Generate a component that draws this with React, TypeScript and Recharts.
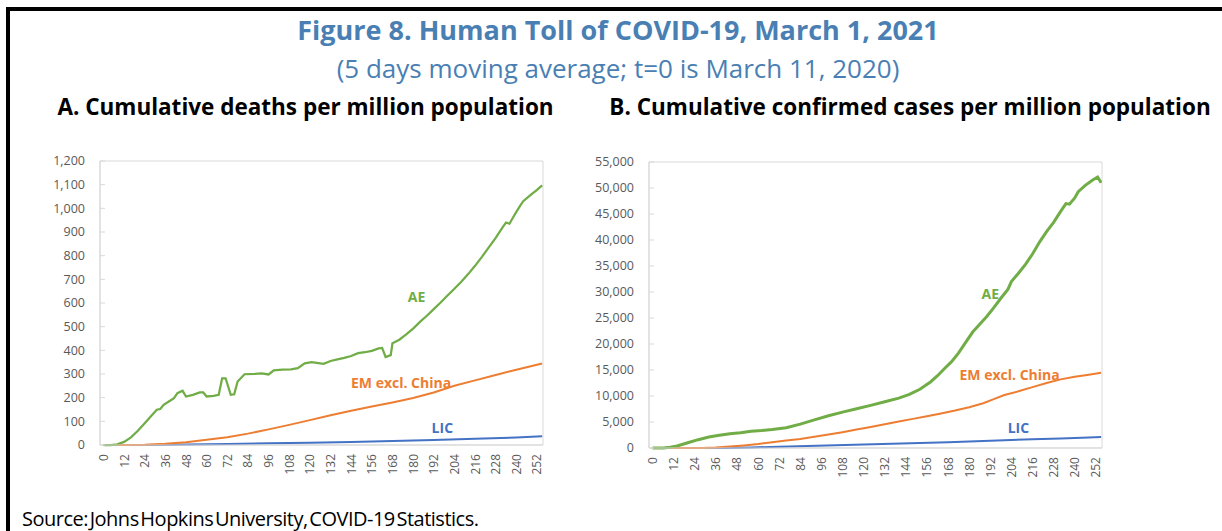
import React from "react";
import { LineChart, Line, XAxis, YAxis, ReferenceArea, ReferenceDot } from "recharts";

// days since March 11, 2020 (t=0) and values
const xTicks = [0, 12, 24, 36, 48, 60, 72, 84, 96, 108, 120, 132, 144, 156, 168, 180, 192, 204, 216, 228, 240, 252];
const deathTicks = [0, 100, 200, 300, 400, 500, 600, 700, 800, 900, 1000, 1100, 1200];
const caseTicks = [0, 5000, 10000, 15000, 20000, 25000, 30000, 35000, 40000, 45000, 50000, 55000];

// Panel A: cumulative deaths per million
const aeDeathDays = [0, 4, 8, 12, 16, 20, 24, 28, 31, 33, 35, 38, 41, 43, 46, 48, 52, 56, 58, 60, 64, 67, 69, 71, 74, 76, 78, 82, 88, 92, 96, 99, 104, 109, 113, 117, 121, 125, 128, 132, 136, 140, 144, 148, 152, 156, 160, 162, 164, 167, 168, 172, 176, 180, 184, 188, 192, 196, 200, 204, 208, 212, 216, 220, 224, 228, 232, 234, 236, 238, 240, 242, 244, 248, 252, 255];
const aeDeaths = [0, 0, 3, 13, 32, 60, 92, 125, 149, 152, 170, 184, 198, 219, 229, 205, 212, 222, 222, 205, 208, 212, 282, 282, 212, 214, 268, 299, 301, 303, 298, 315, 318, 320, 325, 345, 350, 346, 343, 355, 362, 368, 376, 388, 392, 398, 408, 410, 372, 380, 430, 445, 467, 492, 520, 546, 574, 602, 632, 660, 690, 722, 757, 795, 835, 875, 920, 940, 935, 960, 985, 1008, 1030, 1055, 1078, 1097];
const emDeathDays = [0, 12, 24, 36, 48, 60, 72, 84, 96, 108, 120, 132, 144, 156, 168, 180, 192, 204, 216, 228, 240, 255];
const emDeaths = [0, 0, 1, 5, 12, 22, 33, 48, 66, 85, 105, 126, 145, 163, 180, 199, 222, 250, 273, 296, 318, 344];
const licDeathDays = [0, 24, 48, 72, 96, 120, 144, 168, 192, 216, 240, 255];
const licDeaths = [0, 0, 2, 4, 7, 10, 13, 17, 21, 26, 32, 37];

// Panel B: cumulative confirmed cases per million
const aeCaseDays = [0, 6, 10, 14, 20, 26, 32, 38, 44, 50, 56, 62, 68, 76, 84, 92, 100, 108, 116, 124, 132, 140, 146, 152, 158, 162, 166, 170, 174, 178, 182, 186, 190, 194, 198, 202, 204, 208, 212, 216, 220, 224, 228, 232, 235, 237, 240, 242, 246, 250, 253, 255];
const aeCases = [0, 20, 150, 380, 1000, 1600, 2100, 2450, 2750, 2950, 3200, 3350, 3550, 3900, 4600, 5400, 6200, 6900, 7550, 8200, 8900, 9600, 10300, 11300, 12700, 13900, 15300, 16600, 18300, 20300, 22300, 23800, 25300, 27000, 28800, 30500, 32000, 33600, 35300, 37300, 39600, 41600, 43400, 45500, 47000, 46900, 48100, 49300, 50500, 51500, 52100, 51000];
const emCaseDays = [0, 28, 36, 44, 52, 60, 68, 76, 84, 92, 100, 108, 116, 124, 132, 140, 148, 156, 164, 172, 180, 188, 194, 200, 208, 216, 224, 232, 240, 248, 255];
const emCases = [0, 0, 100, 300, 500, 750, 1100, 1450, 1750, 2150, 2600, 3050, 3550, 4050, 4550, 5100, 5600, 6100, 6650, 7200, 7850, 8600, 9400, 10200, 10900, 11700, 12500, 13200, 13700, 14100, 14450];
const licCaseDays = [0, 40, 56, 72, 88, 104, 120, 136, 152, 168, 184, 200, 216, 232, 248, 255];
const licCases = [0, 0, 100, 250, 400, 550, 680, 800, 950, 1100, 1280, 1480, 1680, 1850, 2020, 2100];

const GREEN = "#70AD47";
const ORANGE = "#ED7D31";
const BLUE = "#4472C4";
const GRID = "#d9d9d9";
const TICK = "#595959";
const X_DOMAIN = [-2, 255.5];

const zip = (days: number[], vals: number[]) => days.map((d, i) => ({ d, v: vals[i] }));

const RotatedTick = (props: any) => {
  const { x, y, payload } = props;
  return (
    <text
      x={x}
      y={y}
      transform={`rotate(-90 ${x} ${y})`}
      textAnchor="end"
      dominantBaseline="central"
      fontSize={12}
      fill={TICK}
    >
      {payload.value}
    </text>
  );
};

const fmt = (v: number) => v.toLocaleString("en-US");

const seriesLabel = (value: string, fill: string) => ({
  value,
  position: "center" as const,
  fill,
  fontSize: 14,
  fontWeight: 700,
});

function DeathsChart() {
  return (
    <LineChart width={510} height={340} margin={{ top: 11, right: 7, left: 0, bottom: 0 }}>
      <XAxis
        dataKey="d"
        type="number"
        domain={X_DOMAIN}
        ticks={xTicks}
        interval={0}
        height={45}
        tick={<RotatedTick />}
        tickLine={false}
        tickSize={0}
        tickMargin={9}
        axisLine={{ stroke: GRID }}
        allowDataOverflow
      />
      <YAxis
        type="number"
        domain={[0, 1200]}
        ticks={deathTicks}
        width={60}
        tickFormatter={fmt}
        tick={{ fontSize: 12.5, fill: TICK }}
        tickSize={-5}
        tickMargin={20}
        tickLine={{ stroke: GRID }}
        axisLine={{ stroke: GRID }}
      />
      <ReferenceArea x1={X_DOMAIN[0]} x2={X_DOMAIN[1]} y1={0} y2={1200} fill="none" stroke={GRID} />
      <Line data={zip(licDeathDays, licDeaths)} dataKey="v" type="linear" stroke={BLUE} strokeWidth={2} dot={false} isAnimationActive={false} />
      <Line data={zip(emDeathDays, emDeaths)} dataKey="v" type="linear" stroke={ORANGE} strokeWidth={2} dot={false} isAnimationActive={false} />
      <Line data={zip(aeDeathDays, aeDeaths)} dataKey="v" type="linear" stroke={GREEN} strokeWidth={2.25} dot={false} isAnimationActive={false} />
      <ReferenceDot x={182} y={625} r={0} fill="none" stroke="none" label={seriesLabel("AE", GREEN)} />
      <ReferenceDot x={173} y={263} r={0} fill="none" stroke="none" label={seriesLabel("EM excl. China", ORANGE)} />
      <ReferenceDot x={197} y={73} r={0} fill="none" stroke="none" label={seriesLabel("LIC", BLUE)} />
    </LineChart>
  );
}

function CasesChart() {
  return (
    <LineChart width={525} height={340} margin={{ top: 12, right: 8, left: 0, bottom: 0 }}>
      <XAxis
        dataKey="d"
        type="number"
        domain={X_DOMAIN}
        ticks={xTicks}
        interval={0}
        height={42}
        tick={<RotatedTick />}
        tickLine={false}
        tickSize={0}
        tickMargin={9}
        axisLine={{ stroke: GRID }}
        allowDataOverflow
      />
      <YAxis
        type="number"
        domain={[0, 55000]}
        ticks={caseTicks}
        width={64}
        tickFormatter={fmt}
        tick={{ fontSize: 12.5, fill: TICK }}
        tickSize={-5}
        tickMargin={20}
        tickLine={{ stroke: GRID }}
        axisLine={{ stroke: GRID }}
      />
      <ReferenceArea x1={X_DOMAIN[0]} x2={X_DOMAIN[1]} y1={0} y2={55000} fill="none" stroke={GRID} />
      <Line data={zip(licCaseDays, licCases)} dataKey="v" type="linear" stroke={BLUE} strokeWidth={2} dot={false} isAnimationActive={false} />
      <Line data={zip(emCaseDays, emCases)} dataKey="v" type="linear" stroke={ORANGE} strokeWidth={2} dot={false} isAnimationActive={false} />
      <Line data={zip(aeCaseDays, aeCases)} dataKey="v" type="linear" stroke={GREEN} strokeWidth={3} dot={false} isAnimationActive={false} />
      <ReferenceDot x={192} y={29600} r={0} fill="none" stroke="none" label={seriesLabel("AE", GREEN)} />
      <ReferenceDot x={203} y={14000} r={0} fill="none" stroke="none" label={seriesLabel("EM excl. China", ORANGE)} />
      <ReferenceDot x={208} y={3800} r={0} fill="none" stroke="none" label={seriesLabel("LIC", BLUE)} />
    </LineChart>
  );
}

export default function App() {
  const abs = (extra: React.CSSProperties): React.CSSProperties => ({ position: "absolute", ...extra });
  return (
    <div
      style={{
        position: "relative",
        width: 1222,
        height: 531,
        overflow: "hidden",
        background: "#fff",
        fontFamily: "'Open Sans', 'Noto Sans', sans-serif",
      }}
    >
      <style>{"body{margin:0;overflow:hidden}"}</style>
      <div style={abs({ left: 6, top: 7, width: 1300, height: 600, borderTop: "4px solid #000", borderLeft: "4px solid #000" })} />
      <div style={abs({ left: 0, width: 1236, top: 13, lineHeight: "34px", textAlign: "center", fontSize: 27, fontWeight: 700, color: "#4a7fb3", whiteSpace: "nowrap" })}>
        Figure 8. Human Toll of COVID-19, March 1, 2021
      </div>
      <div style={abs({ left: 0, width: 1236, top: 51, lineHeight: "34px", textAlign: "center", fontSize: 26, color: "#4a7fb3", whiteSpace: "nowrap" })}>
        (5 days moving average; t=0 is March 11, 2020)
      </div>
      <div style={abs({ left: 5, width: 601, top: 92, lineHeight: "30px", textAlign: "center", fontSize: 22.5, fontWeight: 700, color: "#000", whiteSpace: "nowrap" })}>
        A. Cumulative deaths per million population
      </div>
      <div style={abs({ left: 560, width: 700, top: 92, lineHeight: "30px", textAlign: "center", fontSize: 22.5, fontWeight: 700, color: "#000", whiteSpace: "nowrap" })}>
        B. Cumulative confirmed cases per million population
      </div>
      <div style={abs({ left: 40, top: 150 })}>
        <DeathsChart />
      </div>
      <div style={abs({ left: 585, top: 150 })}>
        <CasesChart />
      </div>
      <div style={abs({ left: 22, top: 506, lineHeight: "26px", fontSize: 20, letterSpacing: -0.5, wordSpacing: -3, color: "#000", whiteSpace: "nowrap" })}>
        Source: Johns Hopkins University, COVID-19 Statistics.
      </div>
    </div>
  );
}
